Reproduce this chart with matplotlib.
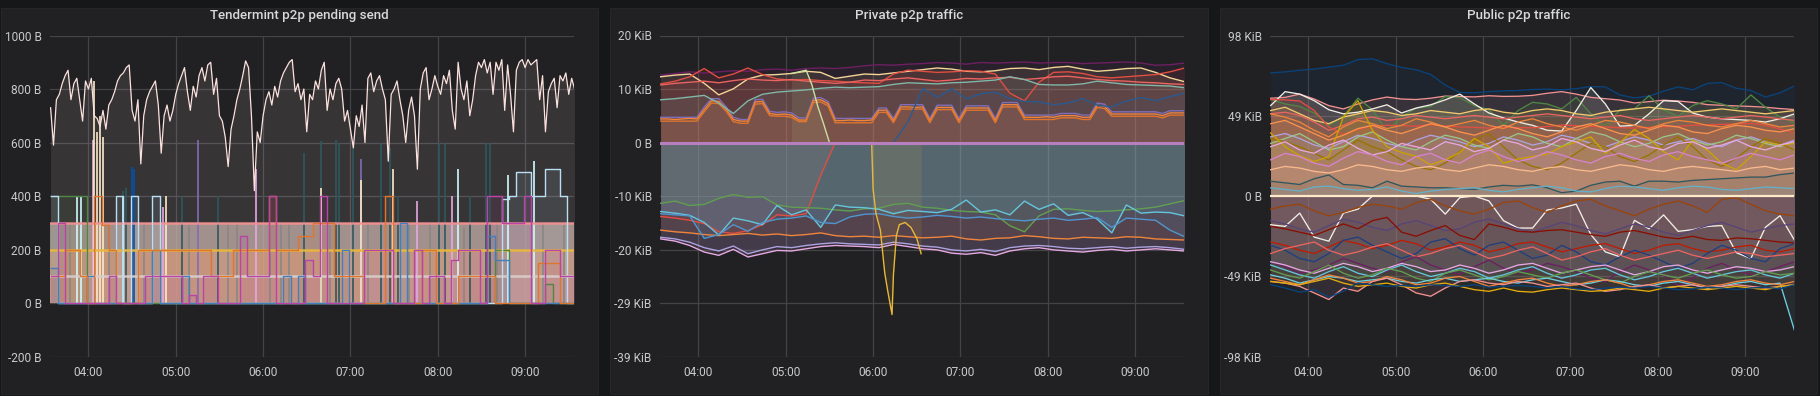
import matplotlib.pyplot as plt
import numpy as np
from matplotlib.patches import Rectangle

plt.rcParams['font.family'] = ['Roboto', 'DejaVu Sans']

nan = np.nan
T0 = 3 + 34 / 60          # first sample at 03:34
X_MIN, X_MAX = 3.56, 9.56

# ---------------- Tendermint p2p pending send (bytes) ----------------
# busiest peer, one sample every 2 min
pending_main = [
    730, 590, 760, 780, 820, 850, 870, 760, 820, 840,
    760, 680, 830, 800, 840, 700, 690, 660, 720, 650,
    740, 760, 790, 830, 850, 860, 880, 890, 720, 680,
    760, 520, 700, 760, 790, 810, 830, 740, 560, 700,
    740, 680, 720, 780, 820, 850, 880, 790, 720, 810,
    770, 850, 880, 830, 890, 900, 780, 840, 700, 680,
    620, 510, 650, 700, 760, 800, 850, 905, 880, 700,
    420, 640, 600, 700, 760, 790, 740, 810, 770, 830,
    860, 880, 900, 910, 790, 820, 760, 800, 640, 780,
    760, 830, 800, 870, 900, 720, 800, 760, 820, 840,
    800, 680, 720, 650, 580, 700, 660, 740, 600, 840,
    860, 790, 830, 850, 800, 760, 530, 780, 800, 830,
    760, 700, 600, 720, 770, 700, 500, 800, 860, 880,
    760, 800, 850, 810, 780, 850, 820, 870, 720, 650,
    900, 800, 760, 830, 700, 760, 850, 900, 880, 910,
    860, 900, 780, 900, 870, 910, 720, 890, 780, 640,
    870, 900, 910, 880, 910, 890, 900, 910, 760, 850,
    640, 790, 820, 840, 730, 850, 830, 860, 780, 840, 800,
]

# other peers, one sample every 5 min (drawn as steps)
pending_magenta = [
    100, 300, 0, 0, 0, 0, 0, 0, 100, 0,
    0, 0, 0, 100, 100, 100, 100, 100, 0, 30,
    0, 100, 100, 0, 0, 0, 250, 100, 100, 100,
    400, 0, 0, 0, 0, 160, 100, 400, 0, 0,
    0, 0, 0, 200, 200, 200, 200, 0, 0, 0,
    200, 0, 100, 100, 0, 160, 200, 200, 200, 0,
    400, 400, 300, 300, 300, 400, 0, 0, 200, 200,
    100, 100, 100,
]
pending_orange = [
    100, 100, 200, 200, 100, 0, 400, 290, 200, 0,
    0, 0, 200, 200, 200, 200, 200, 200, 200, 200,
    200, 200, 100, 100, 100, 200, 200, 200, 200, 200,
    400, 200, 200, 200, 250, 250, 300, 300, 300, 100,
    100, 100, 100, 0, 0, 0, 400, 0, 0, 0,
    0, 200, 200, 0, 0, 0, 100, 100, 100, 100,
    100, 0, 0, 0, 0, 0, 0, 150, 150, 150,
    0, 0, 0,
]
pending_blue = [
    130, 0, 0, 0, 0, 100, 0, 0, 0, 0,
    0, 0, 0, 0, 200, 0, 0, 0, 100, 0,
    0, 0, 0, 0, 0, 0, 0, 0, 0, 0,
    0, 0, 100, 0, 100, 0, 0, 0, 0, 0,
    200, 0, 0, 0, 0, 0, 0, 0, 300, 0,
    0, 0, 0, 0, 0, 0, 0, 0, 0, 0,
    250, 160, 160, 0, 0, 0, 0, 0, 0, 0,
    0, 0, 0,
]
pending_cyan = [
    400, 0, 0, 0, 0, 0, 0, 0, 0, 400,
    0, 400, 0, 0, 400, 0, 0, 0, 0, 0,
    0, 0, 0, 0, 0, 0, 0, 0, 0, 0,
    0, 0, 0, 0, 0, 0, 0, 0, 0, 0,
    0, 0, 0, 0, 0, 0, 0, 0, 0, 0,
    0, 0, 0, 0, 0, 0, 0, 0, 0, 0,
    0, 0, 390, 400, 490, 490, 400, 400, 500, 500,
    400, 0, 0,
]
pending_green = [
    400, 400, 400, 400, 400, 0, 0, 0, 0, 0,
    0, 0, 0, 0, 0, 0, 0, 0, 0, 0,
    0, 0, 0, 0, 0, 0, 0, 0, 0, 0,
    0, 0, 0, 0, 0, 0, 0, 0, 0, 0,
    0, 0, 0, 0, 0, 0, 0, 0, 0, 0,
    0, 0, 0, 0, 0, 0, 0, 0, 0, 0,
    0, 200, 200, 0, 0, 0, 0, 0, 70, 0,
    0, 0, 0,
]
# peers that sit on one level the whole time
pending_flat_levels = [300, 200, 100]
pending_flat_colors = ['#F29191', '#EAB839', '#d9cfcc']

# short bursts: (time, bytes)
burst_teal_t = ["04:24", "04:26", "05:04", "05:29", "06:28", "06:40", "06:50", "06:52", "07:02",
                "07:21", "07:27", "07:33", "08:01", "08:05", "08:22", "08:33", "08:36"]
burst_teal_v = [420, 430, 400, 400, 560, 605, 610, 600, 580, 600, 580, 400, 600, 600, 400, 600, 600]
burst_navy_t = ["04:30", "04:31"]
burst_navy_v = [510, 500]
burst_cream_t = ["04:04", "04:06", "04:08", "04:10", "04:53", "06:40", "07:07", "07:29"]
burst_cream_v = [830, 640, 700, 620, 400, 430, 460, 500]
burst_lav_t = ["04:03", "04:51", "05:55", "07:46", "08:10"]
burst_lav_v = [610, 360, 500, 380, 400]
burst_purple_t = ["05:15", "07:07"]
burst_purple_v = [610, 540]
burst_ice_t = ["03:52", "03:55", "04:24", "08:14", "08:48", "09:06"]
burst_ice_v = [400, 400, 400, 500, 480, 530]
burst_gray_t = ["03:40", "03:47", "04:14", "04:19", "04:38", "04:44", "05:09", "05:36", "05:42",
                "06:05", "06:12", "06:18", "06:46", "07:12", "07:40", "07:55", "08:18", "08:41",
                "09:12", "09:27"]
burst_gray_v = [300, 290, 300, 280, 300, 300, 290, 300, 300, 280, 300, 300, 290, 300, 300, 300,
                280, 300, 300, 290]

# ---------------- Private p2p traffic (KiB/s, 10 min samples) ----------------
priv_purple = [12.3, 12.6, 12.9, 12.7, 12.9, 13.1, 13.0, 13.3, 13.4, 13.2, 13.5, 13.6, 13.5, 13.7,
               14.0, 14.2, 14.1, 14.3, 14.4, 14.6, 14.5, 14.3, 14.6, 14.5, 14.6, 14.7, 14.5, 14.6,
               14.6, 14.4, 14.5, 14.6, 14.7, 14.5, 14.1, 14.2, 14.5]
priv_cream = [12.0, 12.3, 12.5, 10.8, 8.7, 9.8, 11.6, 12.3, 12.4, 12.6, 13.0, 12.8, 11.7, 12.1,
              12.5, 12.4, 12.7, 13.0, 13.3, 13.6, 13.4, 13.0, 12.9, 13.1, 13.5, 13.6, 13.3, 13.7,
              13.9, 13.4, 13.0, 13.2, 13.5, 13.6, 12.8, 11.8, 11.1]
priv_red_a = [10.7, 11.2, 12.0, 13.5, 11.8, 12.5, 13.6, 12.4, 11.6, 11.4, 11.5, 11.3, 11.2, 11.0,
              10.9, 10.8, 12.5, 13.2, 13.0, 12.8, 12.9, 13.1, 13.0, 12.5, 9.0, 7.6, 11.0, 12.8,
              12.9, 12.6, 12.0, 11.8, 12.0, 12.2, 12.4, 12.9, 13.6]
priv_red_b = [10.5, 10.8, 11.0, 11.2, 10.9, 11.3, 11.6, 11.4, 11.3, 11.5, 11.2, 11.0, 10.8, 11.0,
              11.4, 11.3, 11.6, 11.8, 11.5, 11.2, 11.4, 11.7, 11.6, 11.8, 11.9, 11.5, 11.7, 12.0,
              12.1, 11.8, 11.5, 11.3, 11.2, 11.0, 10.9, 10.7, 10.6]
priv_teal = [7.8, 8.0, 8.3, 8.6, 7.2, 5.3, 7.6, 8.8, 9.2, 9.4, 9.6, 9.9, 10.1, 10.0, 10.1, 10.2,
             10.6, 10.9, 10.8, 10.7, 10.9, 11.0, 11.2, 11.4, 12.0, 11.5, 10.6, 10.5, 10.5, 10.7,
             11.2, 10.9, 10.6, 10.5, 10.4, 10.3, 10.0]
priv_navy = [nan, nan, nan, nan, nan, nan, nan, nan, nan, nan, nan, nan, nan, nan, nan, nan,
             0.0, 3.8, 9.9, 8.3, 9.8, 8.0, 8.9, 9.2, 8.0, 7.5, 7.4, 6.9, 7.2, 8.0, 6.8, 6.5,
             7.6, 8.2, 7.6, 8.4, 9.0]
priv_green = [-11.1, -10.7, -11.5, -11.3, -10.2, -9.5, -10.0, -9.9, -11.4, -11.8, -11.9, -12.0,
              -12.3, -12.5, -12.1, -12.0, -11.3, -11.1, -11.8, -12.0, -12.4, -12.6, -12.7, -13.2,
              -15.2, -16.3, -13.4, -12.2, -12.1, -12.4, -12.6, -12.5, -12.3, -12.1, -11.8, -11.2,
              -10.6]
priv_cyan = [-12.6, -12.9, -13.3, -14.6, -16.9, -13.8, -14.3, -15.0, -11.5, -13.2, -12.3, -15.5,
             -11.4, -11.8, -11.9, -12.2, -13.0, -12.4, -12.6, -12.8, -12.2, -10.5, -12.7, -12.3,
             -13.2, -10.7, -12.2, -11.2, -13.3, -12.8, -14.0, -16.5, -11.4, -12.9, -12.7, -12.8,
             -13.4]
priv_blue = [-13.0, -13.2, -13.4, -17.5, -16.8, -15.0, -16.2, -14.6, -14.0, -13.8, -13.4, -14.6,
             -14.8, -13.6, -13.1, -13.0, -13.5, -13.8, -13.6, -13.3, -13.5, -13.8, -13.6, -13.9,
             -14.1, -14.3, -14.0, -13.8, -14.2, -14.0, -13.7, -15.5, -13.8, -14.0, -14.2, -16.0,
             -17.2]
priv_red_neg = [-13.5, -13.8, -14.2, -14.8, -16.3, -16.6, -16.1, -15.0, -13.2, -13.4, -13.0, -6.0,
                0.0, nan, nan, nan, nan, nan, nan, nan, nan, nan, nan, nan, nan, nan, nan, nan,
                nan, nan, nan, nan, nan, nan, nan, nan, nan]
priv_orange = [-16.0, -16.3, -16.5, -16.8, -17.0, -16.8, -16.6, -16.9, -16.7, -17.0, -16.8, -16.5,
               -17.0, -17.2, -17.1, -17.3, -17.0, -17.2, -17.4, -17.3, -17.1, -17.6, -17.8, -17.5,
               -17.4, -17.0, -17.2, -17.5, -17.6, -17.3, -17.4, -17.5, -17.2, -17.3, -17.6, -17.7,
               -17.8]
priv_pink = [-17.6, -18.0, -18.8, -20.0, -20.6, -19.5, -20.9, -20.3, -19.7, -19.8, -19.4, -19.0,
             -18.8, -18.9, -19.0, -19.2, -18.6, -19.0, -19.4, -19.6, -20.2, -20.4, -20.1, -20.6,
             -19.8, -19.4, -19.2, -19.6, -19.8, -20.0, -19.7, -19.5, -19.8, -19.6, -19.4, -19.6,
             -19.8]
priv_lilac = [-17.3, -17.6, -18.2, -19.2, -19.8, -18.9, -20.3, -19.6, -19.0, -19.2, -18.8, -18.5,
              -18.3, -18.5, -18.6, -18.7, -18.2, -18.5, -18.9, -19.1, -19.6, -19.8, -19.5, -19.9,
              -19.2, -18.9, -18.8, -19.0, -19.3, -19.4, -19.2, -19.0, -19.3, -19.1, -19.0, -19.2,
              -19.5]

# square-wave peers, 5 min samples
priv_sq_purple = [4.6, 4.6, 4.6, 4.6, 4.6, 4.6, 6.5, 8.0, 8.0, 6.5,
                  4.6, 4.2, 4.2, 7.8, 7.9, 5.7, 5.5, 5.6, 5.4, 4.5,
                  4.5, 8.1, 8.2, 7.5, 4.4, 4.4, 4.4, 4.4, 4.4, 4.4,
                  6.3, 6.3, 4.4, 6.9, 6.9, 6.9, 6.9, 4.4, 6.8, 6.8,
                  6.8, 4.4, 6.7, 6.7, 6.7, 6.7, 4.4, 7.3, 7.3, 7.3,
                  5.0, 5.0, 5.0, 5.0, 5.0, 5.3, 5.3, 5.3, 5.0, 5.0,
                  7.2, 7.0, 5.6, 5.6, 5.6, 5.6, 5.6, 5.6, 5.6, 5.3,
                  5.8, 5.8, 5.8]
priv_sq_orange = [4.3, 4.3, 4.2, 4.3, 4.4, 4.3, 6.0, 7.6, 7.5, 6.1,
                  4.2, 3.9, 3.9, 7.4, 7.5, 5.3, 5.1, 5.2, 5.0, 4.1,
                  4.1, 7.7, 7.8, 7.1, 4.0, 4.0, 4.1, 4.0, 4.0, 4.1,
                  5.9, 5.9, 4.0, 6.5, 6.5, 6.4, 6.5, 4.0, 6.4, 6.4,
                  6.4, 4.0, 6.3, 6.3, 6.3, 6.3, 4.0, 6.9, 6.9, 6.9,
                  4.6, 4.6, 4.6, 4.7, 4.6, 4.9, 4.9, 4.9, 4.6, 4.6,
                  6.8, 6.6, 5.2, 5.2, 5.2, 5.2, 5.2, 5.2, 5.2, 4.9,
                  5.4, 5.4, 5.4]
priv_sq_red = [3.9, 3.9, 3.9, 3.9, 3.9, 3.9, 5.6, 7.2, 7.1, 5.7,
               3.8, 3.5, 3.5, 7.0, 7.1, 4.9, 4.8, 4.8, 4.6, 3.8,
               3.8, 7.3, 7.4, 6.7, 3.6, 3.6, 3.6, 3.6, 3.6, 3.6,
               5.5, 5.5, 3.6, 6.1, 6.1, 6.1, 6.1, 3.6, 6.0, 6.0,
               6.0, 3.6, 5.9, 5.9, 5.9, 5.9, 3.6, 6.5, 6.5, 6.5,
               4.2, 4.2, 4.2, 4.2, 4.2, 4.5, 4.5, 4.5, 4.2, 4.2,
               6.4, 6.2, 4.8, 4.8, 4.8, 4.8, 4.8, 4.8, 4.8, 4.5,
               5.0, 5.0, 5.0]

# peers that only show up for a short while (own timestamps)
priv_lime_t = ["05:04", "05:14", "05:18", "05:22", "05:26", "05:30"]
priv_lime_v = [12.6, 13.2, 10.5, 6.6, 3.4, 0.0]
priv_gold_t = ["05:59", "06:00", "06:02", "06:05", "06:08", "06:10", "06:13", "06:14", "06:16",
               "06:18", "06:22", "06:26", "06:30", "06:33"]
priv_gold_v = [0.0, -8.5, -13.0, -16.0, -23.8, -27.0, -31.4, -24.0, -17.0, -15.0, -14.6, -15.5,
               -17.5, -20.3]

# ---------------- Public p2p traffic (KiB/s, 10 min samples) ----------------
pub_navy_top = [74.9, 75.5, 76.5, 77.2, 78.4, 79.5, 83.0, 83.5, 80.5, 78.2, 76.8, 74.0, 67.5, 63.0,
                62.8, 63.5, 64.0, 64.2, 64.8, 65.0, 64.6, 65.3, 66.6, 66.4, 61.5, 59.7, 60.8, 63.8,
                66.4, 64.6, 68.5, 69.0, 65.5, 64.2, 60.2, 62.8, 67.0]
pub_salmon = [59.5, 60.0, 62.0, 59.0, 55.0, 53.0, 56.0, 58.5, 60.2, 59.0, 58.7, 59.5, 60.8, 60.5,
              60.3, 61.0, 60.6, 60.7, 61.2, 62.5, 63.5, 62.0, 60.0, 59.2, 58.4, 56.6, 57.4, 58.3,
              57.8, 57.0, 55.6, 55.2, 54.8, 54.5, 54.0, 53.2, 52.6]
pub_green = [58.7, 56.0, 54.5, 50.5, 43.2, 48.5, 59.5, 52.5, 39.5, 48.0, 53.5, 54.5, 60.5, 59.8,
             55.0, 52.5, 43.0, 52.0, 57.0, 56.0, 53.0, 60.0, 50.0, 42.5, 52.5, 53.0, 61.0, 52.5,
             48.5, 55.0, 58.0, 56.0, 53.0, 61.5, 54.0, 48.0, 44.5]
pub_white = [55.0, 63.5, 62.0, 58.0, 52.5, 50.0, 51.0, 53.0, 55.5, 50.5, 53.5, 55.5, 58.5, 62.0,
             56.0, 50.5, 47.5, 45.0, 43.0, 40.0, 39.5, 52.0, 66.0, 56.0, 42.5, 43.0, 50.0, 58.0,
             57.5, 50.5, 48.0, 47.0, 46.5, 46.0, 45.0, 47.0, 50.0]
pub_cream = [52.0, 54.0, 50.0, 46.0, 44.0, 48.0, 50.0, 52.0, 51.0, 49.0, 50.0, 52.0, 51.0, 50.0,
             52.0, 53.0, 51.0, 50.0, 52.0, 53.0, 52.0, 50.0, 49.0, 51.0, 52.0, 53.0, 54.0, 53.0,
             52.0, 51.0, 52.0, 53.0, 52.0, 51.0, 50.0, 51.0, 52.0]
pub_coral = [50.0, 51.0, 49.0, 45.0, 40.0, 43.0, 47.0, 48.0, 46.0, 47.0, 49.0, 48.0, 47.0, 48.0,
             49.0, 48.0, 47.0, 48.0, 49.0, 50.0, 49.0, 48.0, 47.0, 48.0, 49.0, 47.0, 46.0, 47.0,
             48.0, 49.0, 48.0, 47.0, 48.0, 49.0, 48.0, 47.0, 46.0]
pub_red = [58.7, 58.5, 57.8, 52.0, 42.0, 37.5, 40.5, 42.4, 43.0, 42.8, 42.5, 43.4, 42.6, 42.0,
           41.8, 41.3, 41.8, 41.6, 41.5, 42.3, 43.2, 42.8, 42.4, 42.0, 41.6, 41.4, 41.8, 42.1,
           42.5, 43.0, 43.4, 43.6, 43.8, 44.2, 43.0, 40.8, 38.5]
pub_orange = [50.0, 48.0, 45.0, 40.0, 36.0, 42.0, 46.0, 44.0, 41.0, 43.0, 47.0, 45.0, 42.0, 44.0,
              46.0, 43.0, 41.0, 45.0, 47.0, 44.0, 42.0, 40.0, 43.0, 46.0, 45.0, 43.0, 41.0, 44.0,
              46.0, 45.0, 43.0, 42.0, 44.0, 46.0, 44.0, 42.0, 43.0]
pub_apricot = [44.0, 46.0, 42.0, 38.0, 34.0, 37.0, 41.0, 43.0, 40.0, 38.0, 41.0, 44.0, 42.0, 39.0,
               37.0, 40.0, 43.0, 41.0, 38.0, 36.0, 39.0, 42.0, 44.0, 41.0, 38.0, 37.0, 40.0, 43.0,
               42.0, 39.0, 38.0, 41.0, 43.0, 42.0, 40.0, 39.0, 41.0]
pub_lilac = [36.0, 38.0, 35.0, 31.0, 29.0, 33.0, 37.0, 35.0, 32.0, 30.0, 34.0, 37.0, 35.0, 33.0,
             30.0, 32.0, 36.0, 34.0, 31.0, 33.0, 37.0, 35.0, 32.0, 30.0, 33.0, 36.0, 34.0, 31.0,
             33.0, 35.0, 32.0, 30.0, 34.0, 36.0, 33.0, 31.0, 34.0]
pub_mint = [32.0, 35.0, 38.0, 33.0, 28.0, 30.0, 36.0, 39.0, 34.0, 30.0, 28.0, 33.0, 37.0, 35.0,
            31.0, 29.0, 34.0, 38.0, 36.0, 32.0, 30.0, 35.0, 39.0, 37.0, 33.0, 30.0, 32.0, 36.0,
            38.0, 34.0, 31.0, 33.0, 37.0, 35.0, 32.0, 30.0, 33.0]
pub_olive = [35.0, 33.0, 30.0, 26.0, 22.0, 28.0, 34.0, 30.0, 27.0, 22.0, 18.0, 16.0, 20.0, 27.0,
             34.0, 38.0, 30.0, 22.0, 18.0, 16.0, 20.0, 26.0, 32.0, 30.0, 24.0, 21.0, 25.0, 31.0,
             36.0, 30.0, 22.0, 18.0, 23.0, 30.0, 35.0, 32.0, 28.0]
pub_gold = [38.4, 30.0, 24.5, 21.0, 24.0, 48.0, 58.0, 40.0, 30.0, 26.5, 24.2, 19.0, 22.0, 26.5,
            35.0, 30.0, 20.0, 22.5, 24.0, 25.5, 30.0, 33.0, 36.0, 26.0, 32.5, 40.5, 35.0, 27.0,
            22.0, 34.0, 28.0, 20.0, 16.0, 24.0, 33.0, 31.0, 32.0]
pub_pink = [30.0, 33.0, 28.0, 26.0, 31.0, 34.0, 29.0, 25.0, 27.0, 32.0, 30.0, 28.0, 33.0, 31.0,
            27.0, 29.0, 34.0, 32.0, 28.0, 30.0, 35.0, 33.0, 29.0, 27.0, 31.0, 34.0, 30.0, 28.0,
            32.0, 33.0, 29.0, 31.0, 34.0, 30.0, 28.0, 31.0, 33.0]
pub_lavender = [22.0, 26.0, 24.0, 20.0, 18.0, 23.0, 27.0, 25.0, 21.0, 19.0, 24.0, 26.0, 22.0, 20.0,
                25.0, 28.0, 24.0, 21.0, 23.0, 27.0, 25.0, 22.0, 20.0, 24.0, 26.0, 23.0, 21.0, 25.0,
                27.0, 24.0, 22.0, 20.0, 23.0, 26.0, 24.0, 22.0, 25.0]
pub_peach = [16.0, 18.0, 17.0, 15.0, 14.0, 16.0, 19.0, 18.0, 16.0, 15.0, 17.0, 18.0, 16.0, 15.0,
             17.0, 19.0, 18.0, 16.0, 15.0, 17.0, 18.0, 16.0, 15.0, 17.0, 19.0, 18.0, 16.0, 15.0,
             17.0, 18.0, 17.0, 16.0, 15.0, 17.0, 18.0, 16.0, 17.0]
pub_teal = [9.0, 8.0, 7.0, 10.5, 12.8, 7.0, 6.5, 5.0, 9.0, 6.0, 5.5, 5.0, 5.0, 4.5, 4.0, 5.5, 6.5,
            6.0, 6.8, 5.0, 2.0, 3.0, 6.5, 8.5, 9.0, 6.0, 9.0, 9.0, 8.5, 9.5, 10.0, 10.5, 11.0,
            11.5, 11.5, 13.0, 14.0]
pub_skyblue = [5.0, 4.0, 3.0, 5.5, 6.0, 4.5, 3.5, 4.0, 5.5, 3.0, 1.5, 3.0, 4.0, 4.5, 5.0, 3.5, 2.5,
               4.0, 5.0, 6.0, 5.0, 3.0, 2.5, 4.5, 6.0, 5.5, 4.5, 3.5, 5.0, 6.0, 5.5, 4.0, 3.5, 4.5,
               5.5, 5.0, 4.5]
pub_white_neg = [-17.5, -18.5, -10.4, -25.0, -27.5, -10.4, -8.0, 0.0, 0.0, 0.0, 0.0, -2.0, -11.0,
                 -1.0, 0.0, -3.0, -15.0, -19.5, -19.5, -8.5, -7.3, -5.0, -23.5, -34.0, -37.0,
                 -14.8, -20.0, -11.5, -21.5, -20.5, -18.5, -18.0, -34.5, -38.0, -19.0, -12.0,
                 -27.0]
pub_rust = [-8.0, -6.0, -5.0, -9.0, -12.0, -10.0, -7.0, -5.0, -6.0, -8.0, -4.0, -2.0, -6.0, -9.0,
            -11.0, -8.0, -4.0, -3.0, -7.0, -10.0, -6.0, -3.0, -2.0, -6.0, -9.0, -12.0, -8.0, -5.0,
            -3.0, -6.0, -10.0, -2.0, -1.0, -5.0, -9.0, -11.0, -12.0]
pub_slate = [-15.0, -17.0, -20.0, -22.0, -18.0, -14.0, -16.0, -19.0, -21.0, -17.0, -15.0, -18.0,
             -21.0, -20.0, -16.0, -14.0, -17.0, -20.0, -22.0, -19.0, -16.0, -18.0, -21.0, -23.0,
             -20.0, -17.0, -19.0, -22.0, -24.0, -21.0, -18.0, -16.0, -19.0, -22.0, -20.0, -18.0,
             -17.0]
pub_maroon = [-18.5, -20.0, -22.0, -24.0, -20.5, -17.0, -20.0, -15.0, -13.0, -22.0, -24.5, -21.0,
              -18.0, -24.0, -26.5, -17.0, -19.0, -21.5, -22.0, -21.0, -20.5, -22.0, -23.5, -24.5,
              -22.0, -21.0, -23.0, -25.0, -26.0, -24.5, -26.5, -27.0, -25.5, -26.0, -27.0, -28.0,
              -28.5]
pub_scarlet = [-28.0, -30.0, -33.0, -35.0, -31.0, -27.0, -29.0, -32.0, -30.0, -27.0, -29.0, -33.0,
               -31.0, -28.0, -30.0, -34.0, -32.0, -29.0, -28.0, -31.0, -34.0, -32.0, -30.0, -29.0,
               -32.0, -35.0, -33.0, -30.0, -29.0, -32.0, -34.0, -33.0, -31.0, -30.0, -33.0, -34.0,
               -32.0]
pub_navy_mid = [-30.0, -33.0, -38.0, -40.0, -35.0, -27.0, -25.0, -30.0, -34.0, -38.0, -35.0, -28.0,
                -26.0, -32.0, -36.0, -30.0, -28.0, -33.0, -38.0, -36.0, -30.0, -34.0, -40.0, -42.0,
                -37.0, -33.0, -36.0, -40.0, -44.0, -41.0, -35.0, -30.0, -33.0, -38.0, -40.0, -32.0,
                -29.0]
pub_rose = [-35.0, -32.0, -30.0, -28.0, -33.0, -36.0, -34.0, -31.0, -29.0, -33.0, -37.0, -35.0,
            -32.0, -30.0, -34.0, -38.0, -36.0, -33.0, -31.0, -35.0, -39.0, -37.0, -34.0, -32.0,
            -36.0, -39.0, -37.0, -35.0, -33.0, -36.0, -38.0, -36.0, -34.0, -35.0, -37.0, -36.0,
            -35.0]
pub_plum = [-40.0, -43.0, -47.0, -45.0, -42.0, -38.0, -41.0, -44.0, -46.0, -40.0, -37.0, -42.0,
            -45.0, -48.0, -43.0, -39.0, -44.0, -47.0, -45.0, -41.0, -43.0, -46.0, -50.0, -52.0,
            -46.0, -42.0, -45.0, -48.0, -55.0, -50.0, -44.0, -41.0, -45.0, -48.0, -46.0, -43.0,
            -40.0]
pub_orchid = [-40.0, -42.0, -45.0, -47.0, -44.0, -41.0, -43.0, -46.0, -44.0, -41.0, -43.0, -46.0,
              -45.0, -42.0, -44.0, -47.0, -45.0, -42.0, -41.0, -44.0, -47.0, -45.0, -43.0, -42.0,
              -45.0, -48.0, -46.0, -43.0, -42.0, -45.0, -47.0, -45.0, -43.0, -44.0, -46.0, -45.0,
              -43.0]
pub_sky_neg = [-42.0, -45.0, -48.0, -50.0, -46.0, -43.0, -47.0, -49.0, -45.0, -42.0, -46.0, -49.0,
               -47.0, -44.0, -46.0, -50.0, -48.0, -45.0, -43.0, -47.0, -50.0, -48.0, -45.0, -44.0,
               -48.0, -51.0, -49.0, -46.0, -44.0, -47.0, -50.0, -48.0, -46.0, -45.0, -48.0, -50.0,
               -47.0]
pub_green_neg = [-45.0, -48.0, -50.0, -46.0, -42.0, -47.0, -50.0, -48.0, -44.0, -46.0, -50.0, -52.0,
                 -47.0, -45.0, -48.0, -51.0, -49.0, -46.0, -48.0, -50.0, -47.0, -45.0, -48.0, -51.0,
                 -53.0, -49.0, -46.0, -48.0, -50.0, -47.0, -45.0, -48.0, -50.0, -49.0, -46.0, -48.0,
                 -47.0]
pub_cyan_neg = [-48.0, -50.0, -53.0, -51.0, -49.0, -50.0, -52.0, -51.0, -50.0, -52.0, -53.0, -51.0,
                -50.0, -52.0, -51.0, -50.0, -52.0, -53.0, -51.0, -50.0, -52.0, -54.0, -53.0, -51.0,
                -52.0, -54.0, -55.0, -53.0, -52.0, -54.0, -56.0, -55.0, -53.0, -52.0, -54.0, -53.0,
                -82.0]
pub_orange_neg = [-50.0, -52.0, -54.0, -51.0, -48.0, -50.0, -53.0, -52.0, -49.0, -51.0, -54.0,
                  -53.0, -50.0, -49.0, -52.0, -55.0, -53.0, -51.0, -50.0, -53.0, -55.0, -54.0,
                  -52.0, -51.0, -53.0, -56.0, -54.0, -52.0, -51.0, -53.0, -55.0, -54.0, -52.0,
                  -51.0, -53.0, -54.0, -52.0]
pub_pink_neg = [-52.0, -53.0, -55.0, -59.0, -63.0, -56.0, -58.0, -52.0, -50.0, -54.0, -59.0, -61.0,
                -56.0, -52.0, -51.0, -53.0, -54.0, -52.0, -53.0, -55.0, -54.0, -53.0, -56.0, -58.0,
                -57.0, -55.0, -54.0, -56.0, -55.0, -54.0, -56.0, -55.0, -54.0, -55.0, -56.0, -55.0,
                -54.0]
pub_gold_neg = [-52.0, -53.0, -54.0, -52.0, -50.0, -53.0, -55.0, -54.0, -53.0, -55.0, -56.0, -54.0,
                -53.0, -55.0, -57.0, -58.0, -56.0, -58.0, -58.5, -57.0, -56.0, -57.0, -58.0, -57.5,
                -56.0, -57.0, -58.0, -56.0, -55.0, -56.0, -57.0, -56.0, -55.0, -56.0, -57.0, -55.0,
                -54.0]
pub_navy_low = [-54.0, -56.0, -58.5, -57.0, -61.5, -58.0, -53.0, -54.0, -55.0, -54.5, -55.0, -54.0,
                -54.5, -55.0, -54.0, -55.5, -55.0, -54.5, -55.0, -56.0, -55.0, -56.5, -57.0, -56.0,
                -55.5, -56.0, -55.0, -56.0, -57.0, -56.5, -55.5, -56.0, -57.0, -56.0, -55.5, -56.5,
                -54.0]


def hhmm(s):
    h, m = s.split(":")
    return int(h) + int(m) / 60


def grid_times(values, step_min):
    return T0 + np.arange(len(values)) * step_min / 60


PANEL_BG = '#212124'
PAGE_BG = '#161719'
TEXT = '#d8d9da'

fig = plt.figure(figsize=(18.2, 3.96), dpi=100, facecolor=PAGE_BG)
W, H = 1820, 396

panels = [(1, 598), (610, 1208), (1220, 1817)]
for x0, x1 in panels:
    fig.patches.append(Rectangle((x0 / W, 2 / H), (x1 - x0) / W, 386 / H,
                                 transform=fig.transFigure, facecolor=PANEL_BG,
                                 edgecolor='#262628', lw=0.8, zorder=-5))

axes_px = [(50, 574), (660, 1184), (1270, 1794)]
axs = [fig.add_axes([a / W, 1 - 356.5 / H, (b - a) / W, 321 / H]) for a, b in axes_px]
titles = ["Tendermint p2p pending send", "Private p2p traffic", "Public p2p traffic"]


def style(ax, title, ticks, labels, ylim, x0, x1):
    ax.set_facecolor('none')
    ax.set_xlim(X_MIN, X_MAX)
    ax.set_ylim(*ylim)
    ax.set_yticks(ticks)
    ax.set_yticklabels(labels)
    ax.set_xticks(range(4, 10))
    ax.set_xticklabels([f"{h:02d}:00" for h in range(4, 10)])
    ax.grid(True, color='#444447', lw=0.9)
    ax.set_axisbelow(True)
    for s in ax.spines.values():
        s.set_visible(False)
    ax.tick_params(length=0, colors='#c8c9cb', labelsize=8.6)
    ax.tick_params(axis='y', pad=6)
    ax.tick_params(axis='x', pad=7)
    fig.text((x0 + x1) / 2 / W, 1 - 15 / H, title, color=TEXT, fontsize=9.6,
             fontweight='medium', ha='center', va='center')


# ---------- panel 1 ----------
ax = axs[0]
t5 = grid_times(pending_magenta, 5)
t2 = grid_times(pending_main, 2)
ax.fill_between(t2, pending_main, 0, color='#FCE2DE', alpha=0.1, lw=0)
for lvl, col, a in zip(pending_flat_levels, ['#cfb8b2', '#ffaa78', '#c89ac0'], [0.7, 0.34, 0.1]):
    ax.axhspan(0, lvl, color=col, alpha=a, lw=0)
steppers = [(pending_green, '#508642'), (pending_cyan, '#BADFF4'), (pending_blue, '#447EBC'),
            (pending_orange, '#E0752D'), (pending_magenta, '#BA43A9')]
for vals, col in steppers:
    ax.fill_between(t5, vals, 0, step='post', color=col, alpha=0.1, lw=0)
bursts = [(burst_gray_t, burst_gray_v, '#8a8686'), (burst_teal_t, burst_teal_v, '#2F575E'),
          (burst_navy_t, burst_navy_v, '#0A50A1'), (burst_ice_t, burst_ice_v, '#CFFAFF'),
          (burst_lav_t, burst_lav_v, '#E5A8E2'), (burst_purple_t, burst_purple_v, '#806EB7'),
          (burst_cream_t, burst_cream_v, '#FCEACA')]
for ts, vs, col in bursts:
    ax.vlines([hhmm(s) for s in ts], 0, vs, color=col, lw=1.2)
for lvl, col in zip(pending_flat_levels, pending_flat_colors):
    ax.axhline(lvl, color=col, lw=1.8, alpha=0.9)
for vals, col in steppers:
    ax.step(t5, vals, where='post', color=col, lw=1.0)
ax.plot(t2, pending_main, color='#FCE2DE', lw=0.9)
style(ax, titles[0], range(-200, 1001, 200), [f"{v} B" for v in range(-200, 1001, 200)],
      (-200, 1000), *panels[0])

# ---------- panel 2 ----------
ax = axs[1]
t10 = grid_times(priv_purple, 10)
t5 = grid_times(priv_sq_purple, 5)
smooth2 = [(priv_purple, '#6D1F62', 0.1), (priv_cream, '#F4D598', 0.1),
           (priv_red_a, '#E24D42', 0.1), (priv_red_b, '#EA6460', 0.1),
           (priv_teal, '#7eb8aa', 0.1), (priv_navy, '#2a5a90', 0.1),
           (priv_red_neg, '#E24D42', 0.11), (priv_orange, '#EF843C', 0.11),
           (priv_pink, '#E5A8E2', 0.11), (priv_lilac, '#AEA2E0', 0.11),
           (priv_green, '#629E51', 0.14), (priv_cyan, '#65C5DB', 0.14), (priv_blue, '#5195CE', 0.14)]
squares = [(priv_sq_purple, '#806EB7'), (priv_sq_orange, '#EF843C'), (priv_sq_red, '#E0752D')]
short2 = [(priv_lime_t, priv_lime_v, '#C8E0A0'), (priv_gold_t, priv_gold_v, '#EAB839')]
for vals, col, a in smooth2:
    ax.fill_between(t10, vals, 0, color=col, alpha=a, lw=0)
for vals, col in squares:
    ax.fill_between(t5, vals, 0, color=col, alpha=0.1, lw=0)
for ts, vs, col in short2:
    ax.fill_between([hhmm(s) for s in ts], vs, 0, color=col, alpha=0.1, lw=0)
for vals, col in squares:
    ax.plot(t5, vals, color=col, lw=1.0)
for vals, col, a in smooth2:
    ax.plot(t10, vals, color=col, lw=1.0)
for ts, vs, col in short2:
    ax.plot([hhmm(s) for s in ts], vs, color=col, lw=1.0)
ax.axhline(0, color='#b87fc0', lw=2.2)
k2 = [v * 10000 / 1024 for v in range(-4, 3)]
style(ax, titles[1], k2, ["0 B" if v == 0 else f"{round(v)} KiB" for v in k2],
      (-40000 / 1024, 20000 / 1024), *panels[1])

# ---------- panel 3 ----------
ax = axs[2]
t10 = grid_times(pub_navy_top, 10)
pos3 = [(pub_navy_top, '#0A437C'), (pub_salmon, '#F29191'), (pub_green, '#508642'),
        (pub_white, '#F2EEE6'), (pub_cream, '#F2C96D'), (pub_coral, '#EA6460'),
        (pub_red, '#E24D42'), (pub_orange, '#EF843C'), (pub_apricot, '#F9934E'),
        (pub_lilac, '#AEA2E0'), (pub_mint, '#9AC48A'), (pub_olive, '#967302'),
        (pub_gold, '#CCA300'), (pub_pink, '#E5A8E2'), (pub_lavender, '#D683CE'),
        (pub_peach, '#F9BA8F'), (pub_teal, '#2F575E'), (pub_skyblue, '#64B0C8')]
neg3 = [(pub_white_neg, '#F2EEE6', 0.06), (pub_rust, '#99440A', 0.06),
        (pub_slate, '#584477', 0.12), (pub_maroon, '#890F02', 0.06),
        (pub_scarlet, '#BF1B00', 0.06), (pub_navy_mid, '#1F3F7F', 0.08),
        (pub_rose, '#EA6460', 0.1), (pub_plum, '#6D1F62', 0.12),
        (pub_orchid, '#E5A8E2', 0.12), (pub_sky_neg, '#65C5DB', 0.06),
        (pub_green_neg, '#629E51', 0.05), (pub_cyan_neg, '#6ED0E0', 0.06),
        (pub_orange_neg, '#EF843C', 0.05), (pub_pink_neg, '#F29191', 0.1),
        (pub_gold_neg, '#E5AC0E', 0.05), (pub_navy_low, '#0A437C', 0.08)]
for vals, col in pos3:
    ax.fill_between(t10, vals, 0, color=col, alpha=0.12, lw=0)
for vals, col, a in neg3:
    ax.fill_between(t10, vals, 0, color=col, alpha=a, lw=0)
for vals, col in pos3:
    ax.plot(t10, vals, color=col, lw=0.95)
for vals, col, a in neg3:
    ax.plot(t10, vals, color=col, lw=0.95)
ax.axhline(0, color='#FCEACA', lw=1.6)
k3 = [v * 50000 / 1024 for v in range(-2, 3)]
style(ax, titles[2], k3, ["0 B" if v == 0 else f"{round(v)} KiB" for v in k3],
      (-100000 / 1024, 100000 / 1024), *panels[2])

fig.savefig("out.png", dpi=100, facecolor=PAGE_BG)
